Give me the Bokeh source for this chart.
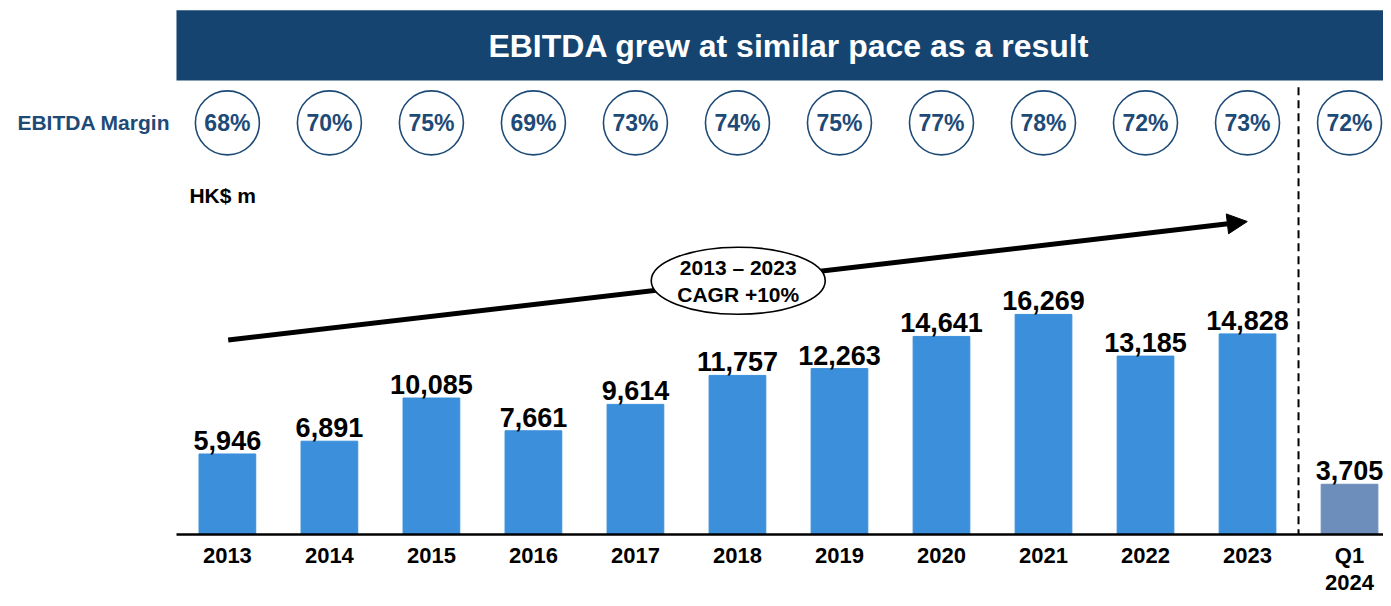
from bokeh.plotting import figure
from bokeh.models import Range1d, FixedTicker, Arrow, NormalHead, ColumnDataSource
from bokeh.core.properties import value
from bokeh.embed import file_html
from bokeh.resources import INLINE

# ---- data ----
periods = ["2013", "2014", "2015", "2016", "2017", "2018", "2019", "2020", "2021", "2022", "2023", "Q1\n2024"]
ebitda = [5946, 6891, 10085, 7661, 9614, 11757, 12263, 14641, 16269, 13185, 14828, 3705]
margins = [68, 70, 75, 69, 73, 74, 75, 77, 78, 72, 73, 72]
title_text = "EBITDA grew at similar pace as a result"
cagr_lines = ["2013 \u2013 2023", "CAGR +10%"]

# ---- layout (reference is 1391x606) ----
W, H = 1383, 598
RW, RH = 1391, 606
X0, X1 = -2.224, 11.333
PXU = 0.0137                      # reference px per HK$ m
Y0, Y1 = -(RH - 541) / PXU, 541 / PXU
FONT = value("Liberation Sans")
NAVY = "#154470"
MNAVY = "#1d4a76"
BLUE = "#3b8fdb"
QBLUE = "#6d8dbb"

def rx(x):
    return X0 + x / RW * (X1 - X0)

def ry(y):
    return Y1 - y / RH * (Y1 - Y0)

p = figure(width=W, height=H, output_backend="svg", toolbar_location=None,
           x_range=Range1d(X0, X1), y_range=Range1d(Y0, Y1),
           y_axis_location=None, min_border_left=0, min_border_right=0,
           min_border_top=0, min_border_bottom=0)
p.outline_line_color = None
p.grid.visible = False
p.background_fill_color = "white"
p.border_fill_color = "white"

idx = list(range(len(periods)))

# x axis drawn at y = 0 inside the frame
xa = p.xaxis[0]
xa.fixed_location = 0
xa.ticker = FixedTicker(ticks=idx)
xa.major_label_overrides = {i: s for i, s in enumerate(periods)}
xa.major_tick_line_color = None
xa.minor_tick_line_color = None
xa.axis_line_color = "black"
xa.axis_line_width = 2.5
xa.bounds = (rx(177), X1)
xa.major_label_text_font = "Liberation Sans"
xa.major_label_text_font_style = "bold"
xa.major_label_text_font_size = "22px"
xa.major_label_text_line_height = 1.05
xa.major_label_text_color = "black"
xa.major_label_standoff = 3

# banner
p.quad(left=[rx(177)], right=[X1 + 1], top=[ry(10)], bottom=[ry(81)],
       fill_color=NAVY, line_color=None)
p.text(x=[rx(793)], y=[ry(46)], text=[title_text], text_font=FONT,
       text_font_style="bold", text_font_size="32px", text_color="white",
       text_align="center", text_baseline="middle")

# margin row
p.text(x=[rx(17)], y=[ry(124)], text=["EBITDA Margin"], text_font=FONT,
       text_font_style="bold", text_font_size="21px", text_color=MNAVY,
       text_align="left", text_baseline="middle")
ycirc = ry(124)
p.scatter(x=idx, y=[ycirc] * len(idx), marker="circle", size=64,
          fill_color="white", line_color=MNAVY, line_width=1.6)
p.text(x=idx, y=[ycirc] * len(idx), text=[f"{m}%" for m in margins], text_font=FONT,
       text_font_style="bold", text_font_size="23px", text_color=MNAVY,
       text_align="center", text_baseline="middle")

# unit label
p.text(x=[rx(190)], y=[ry(198)], text=["HK$ m"], text_font=FONT,
       text_font_style="bold", text_font_size="21px", text_color="black",
       text_align="left", text_baseline="middle")

# dashed separator
p.segment(x0=[10.5], y0=[ry(88)], x1=[10.5], y1=[0], line_color="black",
          line_width=2, line_dash="8 5")

# bars
colors = [BLUE] * 11 + [QBLUE]
src = ColumnDataSource(dict(x=idx, top=ebitda, color=colors,
                            label=[f"{v:,}" for v in ebitda]))
p.vbar(x="x", top="top", width=0.556, bottom=0, color="color", source=src)
p.text(x="x", y="top", text="label", source=src, text_font=FONT,
       text_font_style="bold", text_font_size="27px", text_color="black",
       text_align="center", text_baseline="bottom", y_offset=-4)

# CAGR arrow
arr = Arrow(x_start=rx(229), y_start=ry(344), x_end=rx(1254), y_end=ry(224),
            line_width=5, line_color="black",
            end=NormalHead(size=20, fill_color="black", line_color="black"),
            level="underlay")
p.add_layout(arr)
p.ellipse(x=[rx(742)], y=[ry(284)], width=174, height=67,
          width_units="screen", height_units="screen",
          fill_color="white", line_color="black", line_width=1.6)
p.text(x=[rx(742)] * 2, y=[ry(271), ry(298)], text=cagr_lines, text_font=FONT,
       text_font_style="bold", text_font_size="21px", text_color="black",
       text_align="center", text_baseline="middle")

open("out.html", "w").write(file_html(p, INLINE))
